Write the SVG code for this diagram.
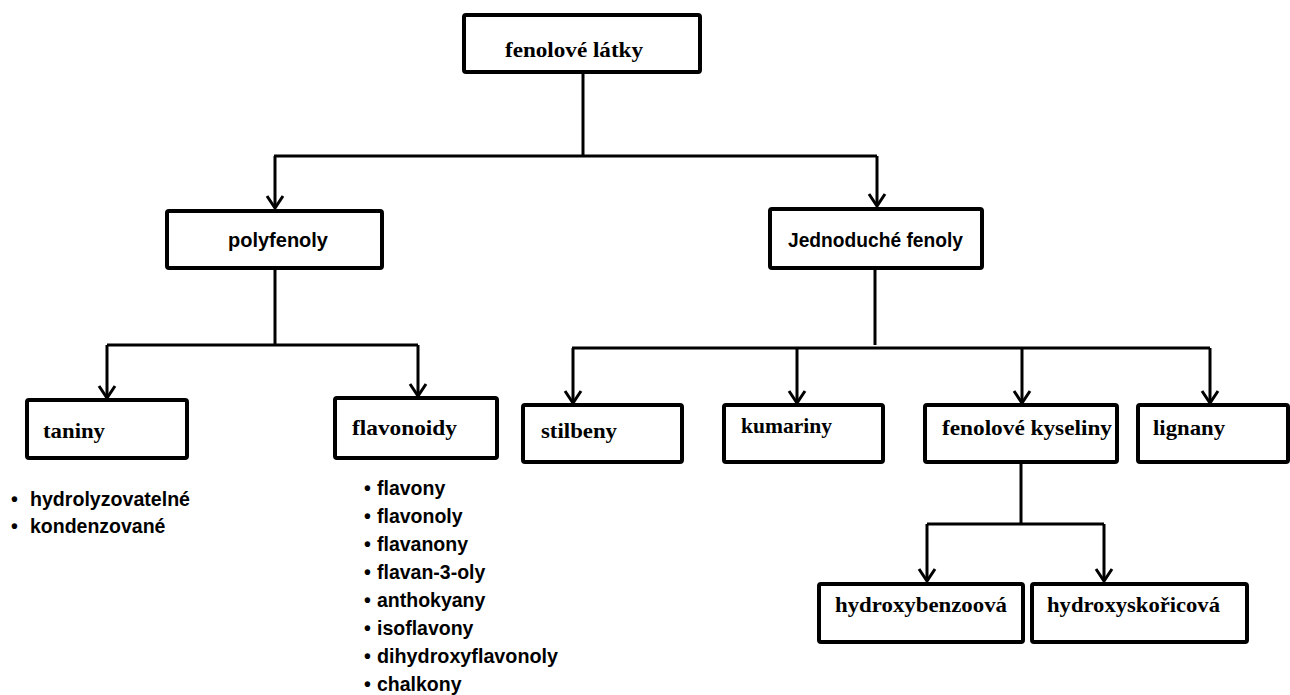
<svg xmlns="http://www.w3.org/2000/svg" width="1290" height="695" viewBox="0 0 1290 695">
  <style>
    .box { fill: #fff; stroke: #000; stroke-width: 4; }
    .serif { font-family: "Liberation Serif", "Times New Roman", serif; font-weight: bold; font-size: 21px; fill: #000; }
    .sans { font-family: "Liberation Sans", Arial, sans-serif; font-weight: bold; font-size: 20px; fill: #000; }
    .list { font-family: "Liberation Sans", Arial, sans-serif; font-weight: bold; font-size: 19.5px; fill: #000; }
    .conn { fill: none; stroke: #000; stroke-width: 3; }
  </style>
  <defs>
    <marker id="arr" markerWidth="20" markerHeight="20" refX="15" refY="10" orient="auto" markerUnits="userSpaceOnUse">
      <path d="M3,2 L15,10 L3,18" fill="none" stroke="#000" stroke-width="3"/>
    </marker>
  </defs>
  <rect width="1290" height="695" fill="#fff"/>

  <g id="connectors">
    <path class="conn" d="M583,72 V156"/>
    <path class="conn" d="M274,156 H877"/>
    <path class="conn" d="M275,156 V208" marker-end="url(#arr)"/>
    <path class="conn" d="M877,156 V206" marker-end="url(#arr)"/>

    <path class="conn" d="M275,268 V345"/>
    <path class="conn" d="M107,345 H418"/>
    <path class="conn" d="M107,345 V398" marker-end="url(#arr)"/>
    <path class="conn" d="M418,345 V396" marker-end="url(#arr)"/>

    <path class="conn" d="M875,268 V345"/>
    <path class="conn" d="M572,348 H1210"/>
    <path class="conn" d="M573,348 V403" marker-end="url(#arr)"/>
    <path class="conn" d="M797,348 V403" marker-end="url(#arr)"/>
    <path class="conn" d="M1022,348 V403" marker-end="url(#arr)"/>
    <path class="conn" d="M1210,348 V403" marker-end="url(#arr)"/>

    <path class="conn" d="M1021,462 V524"/>
    <path class="conn" d="M927,524 H1104"/>
    <path class="conn" d="M927,524 V581" marker-end="url(#arr)"/>
    <path class="conn" d="M1104,524 V581" marker-end="url(#arr)"/>
  </g>

  <g id="fenolove-latky">
    <rect class="box" x="464" y="15" width="236" height="57" rx="2"/>
    <text class="serif" x="505" y="57" textLength="138" lengthAdjust="spacingAndGlyphs">fenolové látky</text>
  </g>
  <g id="polyfenoly">
    <rect class="box" x="167" y="211" width="215" height="57" rx="2"/>
    <text class="sans" x="228" y="247" textLength="100" lengthAdjust="spacingAndGlyphs">polyfenoly</text>
  </g>
  <g id="jednoduche-fenoly">
    <rect class="box" x="770" y="209" width="212" height="59" rx="2"/>
    <text class="sans" x="788" y="247" textLength="175" lengthAdjust="spacingAndGlyphs">Jednoduché fenoly</text>
  </g>
  <g id="taniny">
    <rect class="box" x="27" y="400" width="160" height="58" rx="2"/>
    <text class="serif" x="43" y="438" textLength="62" lengthAdjust="spacingAndGlyphs">taniny</text>
  </g>
  <g id="flavonoidy">
    <rect class="box" x="335" y="398" width="162" height="60" rx="2"/>
    <text class="serif" x="352" y="435" textLength="105" lengthAdjust="spacingAndGlyphs">flavonoidy</text>
  </g>
  <g id="stilbeny">
    <rect class="box" x="523" y="405" width="159" height="57" rx="2"/>
    <text class="serif" x="541" y="438" textLength="76" lengthAdjust="spacingAndGlyphs">stilbeny</text>
  </g>
  <g id="kumariny">
    <rect class="box" x="724" y="405" width="159" height="57" rx="2"/>
    <text class="serif" x="741" y="433" textLength="91" lengthAdjust="spacingAndGlyphs">kumariny</text>
  </g>
  <g id="fenolove-kyseliny">
    <rect class="box" x="925" y="405" width="192" height="57" rx="2"/>
    <text class="serif" x="942" y="435" textLength="170" lengthAdjust="spacingAndGlyphs">fenolové kyseliny</text>
  </g>
  <g id="lignany">
    <rect class="box" x="1138" y="405" width="150" height="57" rx="2"/>
    <text class="serif" x="1153" y="435" textLength="72" lengthAdjust="spacingAndGlyphs">lignany</text>
  </g>
  <g id="hydroxybenzoova">
    <rect class="box" x="819" y="584" width="204" height="58" rx="2"/>
    <text class="serif" x="835" y="612" textLength="172" lengthAdjust="spacingAndGlyphs">hydroxybenzoová</text>
  </g>
  <g id="hydroxyskoricova">
    <rect class="box" x="1032" y="584" width="215" height="58" rx="2"/>
    <text class="serif" x="1047" y="612" textLength="173" lengthAdjust="spacingAndGlyphs">hydroxyskořicová</text>
  </g>

  <g id="taniny-list" class="list">
    <text x="11" y="506">•</text><text x="30" y="506" textLength="160" lengthAdjust="spacingAndGlyphs">hydrolyzovatelné</text>
    <text x="11" y="533">•</text><text x="30" y="533">kondenzované</text>
  </g>
  <g id="flavonoidy-list" class="list">
    <text x="364" y="495">•</text><text x="377" y="495">flavony</text>
    <text x="364" y="523">•</text><text x="377" y="523">flavonoly</text>
    <text x="364" y="551">•</text><text x="377" y="551">flavanony</text>
    <text x="364" y="579">•</text><text x="377" y="579">flavan-3-oly</text>
    <text x="364" y="607">•</text><text x="377" y="607">anthokyany</text>
    <text x="364" y="635">•</text><text x="377" y="635">isoflavony</text>
    <text x="364" y="663">•</text><text x="377" y="663" textLength="181" lengthAdjust="spacingAndGlyphs">dihydroxyflavonoly</text>
    <text x="364" y="691">•</text><text x="377" y="691">chalkony</text>
  </g>
</svg>
